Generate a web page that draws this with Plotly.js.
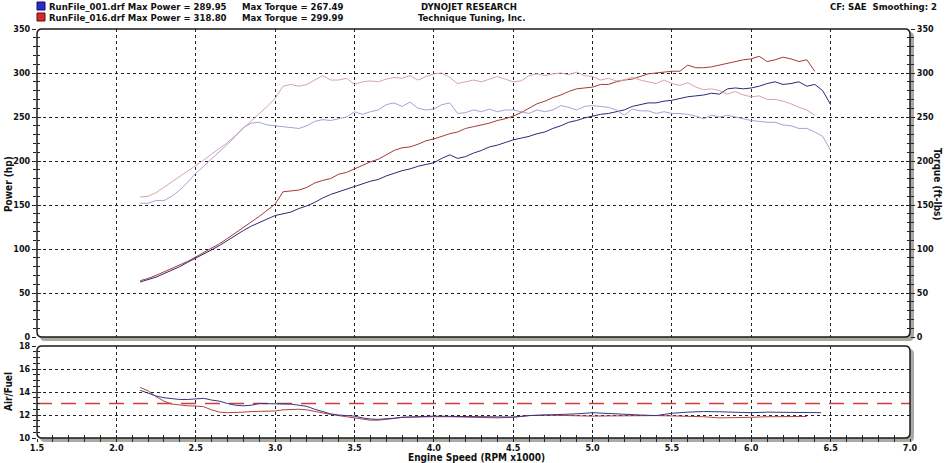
<!DOCTYPE html>
<html>
<head>
<meta charset="utf-8">
<script src="https://cdn.plot.ly/plotly-3.0.1.min.js"></script>
<style>html,body{margin:0;padding:0;background:#fff;}#chart{width:946px;height:463px;}</style>
</head>
<body>
<div id="chart"></div>
<script>
// ---------------- DATA ----------------
const rpm001 = [2.15,2.20,2.25,2.30,2.35,2.40,2.45,2.50,2.55,2.60,
  2.65,2.70,2.75,2.80,2.85,2.90,2.95,3.00,3.05,3.10,
  3.15,3.20,3.25,3.30,3.35,3.40,3.45,3.50,3.55,3.60,
  3.65,3.70,3.75,3.80,3.85,3.90,3.95,4.00,4.05,4.10,
  4.15,4.20,4.25,4.30,4.35,4.40,4.45,4.50,4.55,4.60,
  4.65,4.70,4.75,4.80,4.85,4.90,4.95,5.00,5.05,5.10,
  5.15,5.20,5.25,5.30,5.35,5.40,5.45,5.50,5.55,5.60,
  5.65,5.70,5.75,5.80,5.85,5.90,5.95,6.00,6.05,6.10,
  6.15,6.20,6.25,6.30,6.35,6.40,6.45,6.50];
const rpm016 = [2.15,2.20,2.25,2.30,2.35,2.40,2.45,2.50,2.55,2.60,
  2.65,2.70,2.75,2.80,2.85,2.90,2.95,3.00,3.05,3.10,
  3.15,3.20,3.25,3.30,3.35,3.40,3.45,3.50,3.55,3.60,
  3.65,3.70,3.75,3.80,3.85,3.90,3.95,4.00,4.05,4.10,
  4.15,4.20,4.25,4.30,4.35,4.40,4.45,4.50,4.55,4.60,
  4.65,4.70,4.75,4.80,4.85,4.90,4.95,5.00,5.05,5.10,
  5.15,5.20,5.25,5.30,5.35,5.40,5.45,5.50,5.55,5.60,
  5.65,5.70,5.75,5.80,5.85,5.90,5.95,6.00,6.05,6.10,
  6.15,6.20,6.25,6.30,6.35,6.40];

const power001 = [62.5,65,68,72,76,80,85,89.5,94,99,
  104,110,116,121,126,130,134,138,140,142,
  146,149,153,158,162,165,168,171,174,177,
  179,183,186,189,191,194,196,198,203,207,
  203,205,209,212,216,218,221,224,226,228,
  231,233,237,240,244,246,249,251,253,254,
  256,258,262,264,266,266,268,269,271,273,
  274,275,277,276,282,283,282,283,285,288,
  290,287,288,290,285,287,280,264];
const torque001 = [152,152,155,155,160,167,176,186,194,202,
  210,219,228,238,243,244,241,240,239,238,
  237,240,245,247,246,248,250,256,253,256,
  258,264,266,262,267,260,258,259,264,266,
  254,255,258,256,259,256,258,258,256,254,
  258,256,258,263,261,258,262,263,262,261,
  258,252,259,257,257,254,256,254,254,253,
  251,248,252,250,252,250,248,246,245,244,
  244,241,240,237,237,233,228,212];
const power016 = [64,66.5,70,74,78,82,86,91,96,101,
  106,112,118,124,130,137,144,151,165,166,
  167,170,175,178,180,185,187,191,195,199,
  202,207,212,215,216,219,223,225,228,231,
  233,237,239,241,243,246,248,251,255,260,
  265,268,272,275,279,282,283,284,287,287,
  290,292,293,296,299,300,301,302,302,309,
  306,306,307,309,311,313,315,316,319,313,
  315,318,316,313,315,302];
const torque016 = [159,160,164,170,176,182,189,195,201,208,
  214,221,229,237,245,253,262,271,285,287,
  285,287,292,297,292,292,294,287,290,291,
  290,293,295,294,297,292,296,299,300,295,
  288,290,292,290,293,296,293,290,291,297,
  299,297,299,300,298,301,297,296,292,294,
  291,292,295,292,290,288,292,288,286,289,
  284,281,282,280,276,279,275,273,274,270,
  270,268,265,261,258,252];

const afRpm001 = [2.15,2.20,2.25,2.30,2.35,2.40,2.45,2.50,2.55,2.60,2.65,2.70,2.75,2.80,2.85,2.90,2.95,3.00,3.05,3.10,
  3.15,3.20,3.25,3.30,3.35,3.40,3.45,3.50,3.55,3.60,3.65,3.70,3.75,3.80,3.90,4.00,4.10,4.20,4.30,4.40,
  4.50,4.60,4.70,4.80,4.90,5.00,5.10,5.20,5.30,5.40,5.50,5.60,5.70,5.80,5.90,6.00,6.10,6.20,6.30,6.44];
const af001 = [14.15,13.9,13.65,13.5,13.4,13.35,13.35,13.4,13.45,13.3,13.2,13.0,12.85,12.8,12.85,13.0,13.0,13.0,13.0,12.95,
  12.85,12.75,12.5,12.3,12.1,12.0,11.95,11.9,11.75,11.65,11.62,11.65,11.72,11.8,11.88,11.9,11.88,11.85,11.85,11.82,
  11.82,11.95,12.0,12.02,12.1,12.2,12.12,12.05,12.0,11.95,12.15,12.25,12.3,12.28,12.25,12.2,12.25,12.25,12.22,12.2];
const afRpm016 = [2.15,2.20,2.25,2.30,2.35,2.40,2.45,2.50,2.55,2.60,2.65,2.70,2.75,2.80,2.85,2.90,2.95,3.00,3.05,3.10,
  3.15,3.20,3.25,3.30,3.35,3.40,3.45,3.50,3.55,3.60,3.65,3.70,3.75,3.80,3.90,4.00,4.10,4.20,4.30,4.40,
  4.50,4.60,4.70,4.80,4.90,5.00,5.10,5.20,5.30,5.40,5.50,5.60,5.70,5.80,5.90,6.00,6.10,6.20,6.30,6.35];
const af016 = [14.4,14.1,13.6,13.2,12.95,12.85,12.8,12.78,12.72,12.45,12.25,12.2,12.2,12.25,12.3,12.32,12.35,12.35,12.45,12.5,
  12.5,12.45,12.3,12.2,12.05,11.95,11.85,11.75,11.6,11.55,11.55,11.6,11.7,11.8,11.85,11.85,11.85,11.8,11.78,11.75,
  11.8,11.95,12.0,11.95,11.9,11.9,11.92,11.95,11.95,11.95,11.92,11.9,11.85,11.75,11.75,11.8,11.85,11.88,11.87,11.87];

const afTargetRpm = [1.5, 7.0];
const afTarget = [13, 13];

const xRange = [1.5, 7.0];
const powerRange = [0, 350];
const afRange = [10, 18];

const headerLine1 = ["RunFile_001.drf Max Power = 289.95", "Max Torque = 267.49", "DYNOJET RESEARCH"];
const headerLine2 = ["RunFile_016.drf Max Power = 318.80", "Max Torque = 299.99", "Technique Tuning, Inc."];
const headerRight = "CF: SAE  Smoothing: 2";

// ---------------- LAYOUT HELPERS ----------------
const W = 946, H = 463;
const px = x => x / W;
const py = y => 1 - y / H;
const FONT = "DejaVu Sans Condensed, DejaVu Sans, sans-serif";
const TF = {family: FONT, size: 9, color: '#111', weight: 'bold'};
const HF = {family: FONT, size: 9.5, color: '#111', weight: 'bold'};
const AF = {family: FONT, size: 10, color: '#111', weight: 'bold'};

const L = 37, R = 910, TT = 29, TB = 337, BT = 346, BB = 438;
const xDom = [px(L), px(R)];
const topDom = [py(TB), py(TT)];
const botDom = [py(BB), py(BT)];

function rr(x0, y0, x1, y1, r) {
  const P = (x, y) => px(x).toFixed(5) + ',' + py(y).toFixed(5);
  return 'M' + P(x0 + r, y0) + ' L' + P(x1 - r, y0) + ' Q' + P(x1, y0) + ' ' + P(x1, y0 + r) +
    ' L' + P(x1, y1 - r) + ' Q' + P(x1, y1) + ' ' + P(x1 - r, y1) +
    ' L' + P(x0 + r, y1) + ' Q' + P(x0, y1) + ' ' + P(x0, y1 - r) +
    ' L' + P(x0, y0 + r) + ' Q' + P(x0, y0) + ' ' + P(x0 + r, y0) + ' Z';
}
function frame(x0, y0, x1, y1) {
  return [
    {type: 'path', xref: 'paper', yref: 'paper', path: rr(x0 + 3, y0 + 3, x1 + 4, y1 + 4, 5), fillcolor: '#aaaaa2', line: {width: 0}, layer: 'below'},
    {type: 'path', xref: 'paper', yref: 'paper', path: rr(x0, y0, x1, y1, 5), fillcolor: '#ffffff', line: {width: 0}, layer: 'below'},
    {type: 'path', xref: 'paper', yref: 'paper', path: rr(x0, y0, x1, y1, 5), fillcolor: 'rgba(0,0,0,0)', line: {color: '#1a1a1a', width: 1.5}, layer: 'above'}
  ];
}
function sq(x, y, c, d) {
  return {type: 'rect', xref: 'paper', yref: 'paper', x0: px(x), x1: px(x + 8), y0: py(y + 8), y1: py(y), fillcolor: c, line: {color: d, width: 1}};
}

const gridBase = {showgrid: true, gridcolor: '#222', griddash: 'dot', gridwidth: 1, zeroline: false, showline: false};
const tickOut = {ticks: 'outside', ticklen: 4, tickcolor: '#222', tickwidth: 1};
const tickIn = {ticks: 'inside', ticklen: 4, tickcolor: '#222', tickwidth: 1};

const traces = [
  {x: rpm016, y: torque016, xaxis: 'x2', yaxis: 'y3', mode: 'lines', line: {color: '#d8a4ac', width: 1}, name: 'Torque 016'},
  {x: rpm001, y: torque001, xaxis: 'x2', yaxis: 'y3', mode: 'lines', line: {color: '#a4a4d6', width: 1}, name: 'Torque 001'},
  {x: rpm016, y: power016, xaxis: 'x2', yaxis: 'y2', mode: 'lines', line: {color: '#a83838', width: 1}, name: 'Power 016'},
  {x: rpm001, y: power001, xaxis: 'x2', yaxis: 'y2', mode: 'lines', line: {color: '#2a2a78', width: 1}, name: 'Power 001'},
  {x: afTargetRpm, y: afTarget, xaxis: 'x', yaxis: 'y', mode: 'lines', line: {color: '#d43c3c', width: 1.3, dash: '15px,9px'}, name: 'Target'},
  {x: afRpm016, y: af016, xaxis: 'x', yaxis: 'y', mode: 'lines', line: {color: '#b04444', width: 1}, name: 'AF 016'},
  {x: afRpm001, y: af001, xaxis: 'x', yaxis: 'y', mode: 'lines', line: {color: '#363688', width: 1}, name: 'AF 001'},
  // carriers for tick-only overlay axes
  {x: [null], y: [null], xaxis: 'x2', yaxis: 'y4', mode: 'lines', hoverinfo: 'skip'},
  {x: [null], y: [null], xaxis: 'x2', yaxis: 'y5', mode: 'lines', hoverinfo: 'skip'},
  {x: [null], y: [null], xaxis: 'x3', yaxis: 'y6', mode: 'lines', hoverinfo: 'skip'}
];

const layout = {
  width: W, height: H,
  margin: {l: 0, r: 0, t: 0, b: 0},
  paper_bgcolor: '#ffffff', plot_bgcolor: 'rgba(0,0,0,0)',
  showlegend: false,
  font: TF,
  // bottom panel
  xaxis: Object.assign({}, gridBase, tickOut, {domain: xDom, anchor: 'y', range: xRange, dtick: 0.5, tick0: 1.5, tickformat: '.1f',
    tickfont: TF, ticklen: 3, ticklabelstandoff: -2, minor: {dtick: 0.1, ticks: 'outside', ticklen: 3, tickcolor: '#222', showgrid: false}}),
  yaxis: Object.assign({}, gridBase, tickOut, {domain: botDom, anchor: 'x', range: afRange, dtick: 2, tickfont: TF,
    minor: {dtick: 0.5, ticks: 'outside', ticklen: 3, tickcolor: '#222', showgrid: false}}),
  xaxis3: Object.assign({}, tickIn, {overlaying: 'x', anchor: 'y6', range: xRange, dtick: 0.5, tick0: 1.5, ticklen: 3, showticklabels: false, showgrid: false, zeroline: false,
    minor: {dtick: 0.1, ticks: 'inside', ticklen: 3, tickcolor: '#222', showgrid: false}}),
  yaxis6: Object.assign({}, tickIn, {overlaying: 'y', anchor: 'x3', range: afRange, dtick: 2, showticklabels: false, showgrid: false, zeroline: false,
    minor: {dtick: 0.5, ticks: 'inside', ticklen: 3, tickcolor: '#222', showgrid: false}}),
  // top panel
  xaxis2: Object.assign({}, gridBase, {domain: xDom, anchor: 'y2', range: xRange, dtick: 0.5, tick0: 1.5, showticklabels: false, ticks: ''}),
  yaxis2: Object.assign({}, gridBase, tickOut, {domain: topDom, anchor: 'x2', range: powerRange, dtick: 50, tickfont: TF,
    minor: {dtick: 10, ticks: 'outside', ticklen: 3, tickcolor: '#222', showgrid: false}}),
  yaxis3: Object.assign({}, tickOut, {overlaying: 'y2', side: 'right', anchor: 'x2', range: powerRange, dtick: 50, tickfont: TF, showgrid: false, zeroline: false,
    minor: {dtick: 10, ticks: 'outside', ticklen: 3, tickcolor: '#222', showgrid: false}}),
  yaxis4: Object.assign({}, tickIn, {overlaying: 'y2', anchor: 'x2', range: powerRange, dtick: 50, showticklabels: false, showgrid: false, zeroline: false,
    minor: {dtick: 10, ticks: 'inside', ticklen: 3, tickcolor: '#222', showgrid: false}}),
  yaxis5: Object.assign({}, tickIn, {overlaying: 'y2', side: 'right', anchor: 'x2', range: powerRange, dtick: 50, showticklabels: false, showgrid: false, zeroline: false,
    minor: {dtick: 10, ticks: 'inside', ticklen: 3, tickcolor: '#222', showgrid: false}}),
  shapes: [].concat(
    frame(L, TT, R, TB),
    frame(L, BT, R, BB),
    [sq(37, 2, '#2a2ad0', '#10105a'), sq(37, 13, '#d42a2a', '#5a1010')]
  ),
  annotations: [
    {xref: 'paper', yref: 'paper', x: px(47), y: py(7), xanchor: 'left', yanchor: 'middle', text: headerLine1[0], showarrow: false, font: HF},
    {xref: 'paper', yref: 'paper', x: px(240), y: py(7), xanchor: 'left', yanchor: 'middle', text: headerLine1[1], showarrow: false, font: HF},
    {xref: 'paper', yref: 'paper', x: px(469), y: py(7), xanchor: 'center', yanchor: 'middle', text: headerLine1[2], showarrow: false, font: HF},
    {xref: 'paper', yref: 'paper', x: px(47), y: py(17.5), xanchor: 'left', yanchor: 'middle', text: headerLine2[0], showarrow: false, font: HF},
    {xref: 'paper', yref: 'paper', x: px(240), y: py(17.5), xanchor: 'left', yanchor: 'middle', text: headerLine2[1], showarrow: false, font: HF},
    {xref: 'paper', yref: 'paper', x: px(471), y: py(17.5), xanchor: 'center', yanchor: 'middle', text: headerLine2[2], showarrow: false, font: HF},
    {xref: 'paper', yref: 'paper', x: px(939), y: py(7), xanchor: 'right', yanchor: 'middle', text: headerRight, showarrow: false, font: HF},
    {xref: 'paper', yref: 'paper', x: px(8), y: py(184), xanchor: 'center', yanchor: 'middle', text: 'Power (hp)', textangle: -90, showarrow: false, font: AF},
    {xref: 'paper', yref: 'paper', x: px(8), y: py(392), xanchor: 'center', yanchor: 'middle', text: 'Air/Fuel', textangle: -90, showarrow: false, font: AF},
    {xref: 'paper', yref: 'paper', x: px(938), y: py(184), xanchor: 'center', yanchor: 'middle', text: 'Torque (ft-lbs)', textangle: 90, showarrow: false, font: AF},
    {xref: 'paper', yref: 'paper', x: px(476), y: py(457.5), xanchor: 'center', yanchor: 'middle', text: 'Engine Speed (RPM x1000)', showarrow: false, font: AF}
  ]
};

Plotly.newPlot('chart', traces, layout, {staticPlot: true, displayModeBar: false});
</script>
</body>
</html>
